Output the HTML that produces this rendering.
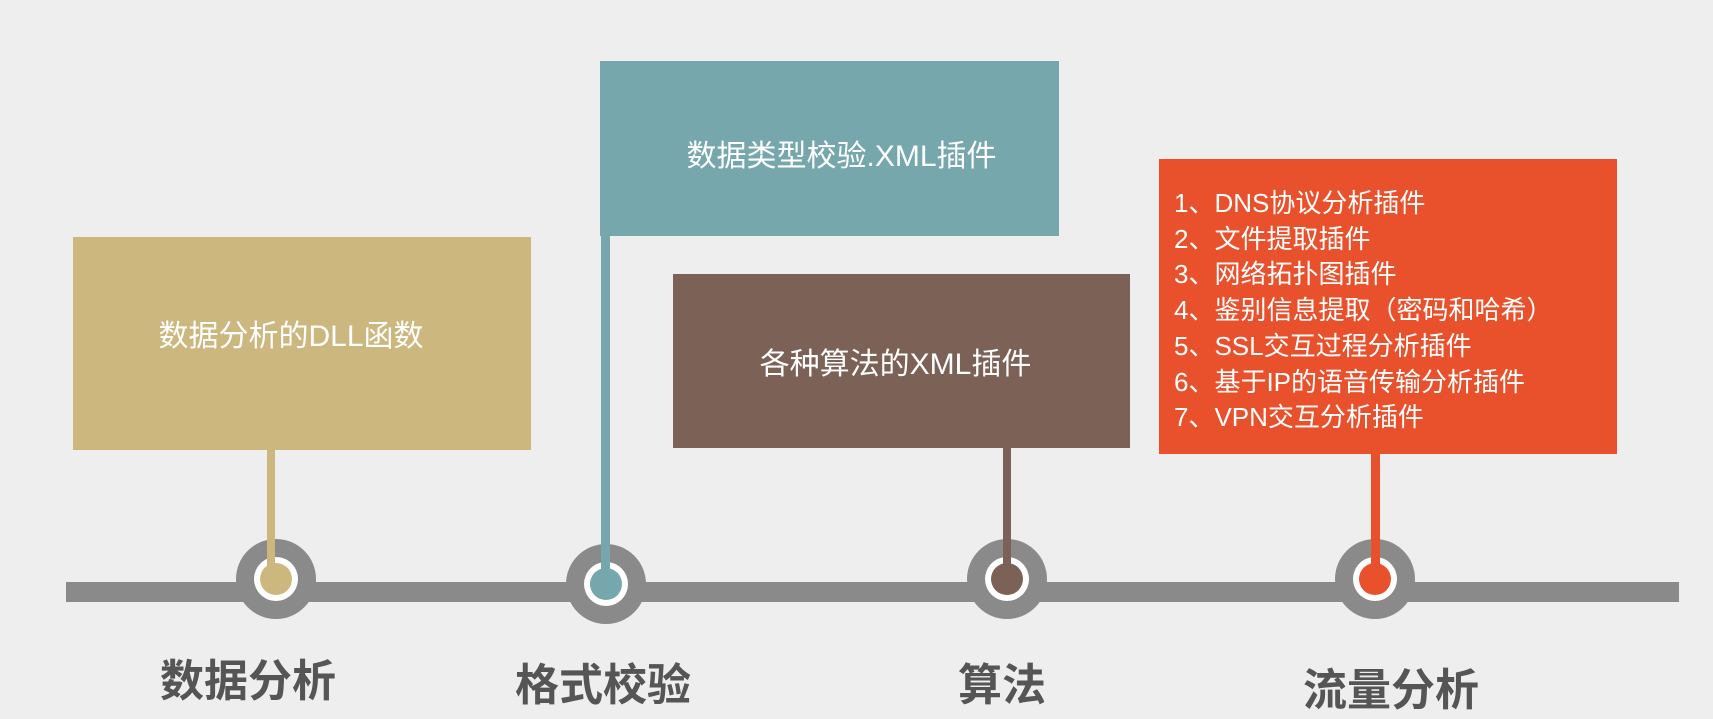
<!DOCTYPE html>
<html><head><meta charset="utf-8"><style>
body{margin:0;width:1713px;height:719px;background:#eeeeee;position:relative;overflow:hidden;font-family:"Liberation Sans","Noto Sans CJK SC",sans-serif}
.a{position:absolute}
.box{position:absolute;color:#fff;display:flex;align-items:center;justify-content:center;font-size:30px;box-sizing:border-box}
.lab{position:absolute;font-size:44px;font-weight:bold;color:#555;transform:translate(-50%,-50%);white-space:nowrap}
.ring{position:absolute;width:80px;height:80px;border-radius:50%;background:#8a8a8a;transform:translate(-50%,-50%)}
.ring i{position:absolute;left:18px;top:18px;width:44px;height:44px;border-radius:50%;background:#fff}
.ring b{position:absolute;left:24px;top:24px;width:32px;height:32px;border-radius:50%}
.ol{position:absolute;left:1174px;top:186px;color:#fff;font-size:26px;line-height:35.7px;white-space:nowrap}
</style></head><body>
<div class="a" style="left:66px;top:582px;width:1613px;height:20px;background:#8a8a8a"></div>
<div class="box" style="left:73px;top:237px;width:458px;height:213px;background:#ccb77f;align-items:flex-start;padding-top:74px;padding-right:22px">数据分析的DLL函数</div>
<div class="box" style="left:600px;top:61px;width:459px;height:175px;background:#76a7ad;align-items:flex-start;padding-top:70px;padding-left:24px">数据类型校验.XML插件</div>
<div class="box" style="left:673px;top:274px;width:457px;height:174px;background:#7b6156;padding-right:12px">各种算法的XML插件</div>
<div class="a" style="left:1159px;top:159px;width:458px;height:295px;background:#e9512d"></div>
<div class="ol">1、DNS协议分析插件<br>2、文件提取插件<br>3、网络拓扑图插件<br>4、鉴别信息提取（密码和哈希）<br>5、SSL交互过程分析插件<br>6、基于IP的语音传输分析插件<br>7、VPN交互分析插件</div>
<div class="ring" style="left:276px;top:579px"><i></i><b style="background:#ccb77f"></b></div>
<div class="ring" style="left:606px;top:584px"><i></i><b style="background:#76a7ad"></b></div>
<div class="ring" style="left:1007px;top:579px"><i></i><b style="background:#7b6156"></b></div>
<div class="ring" style="left:1375px;top:579px"><i></i><b style="background:#e9512d"></b></div>
<div class="a" style="left:267px;top:450px;width:8px;height:130px;background:#ccb77f"></div>
<div class="a" style="left:601px;top:230px;width:9px;height:350px;background:#76a7ad"></div>
<div class="a" style="left:1003px;top:448px;width:8px;height:122px;background:#7b6156"></div>
<div class="a" style="left:1371px;top:454px;width:9px;height:116px;background:#e9512d"></div>
<div class="lab" style="left:248px;top:677px">数据分析</div>
<div class="lab" style="left:603px;top:681px">格式校验</div>
<div class="lab" style="left:1002px;top:681px">算法</div>
<div class="lab" style="left:1391px;top:686px">流量分析</div>
</body></html>
